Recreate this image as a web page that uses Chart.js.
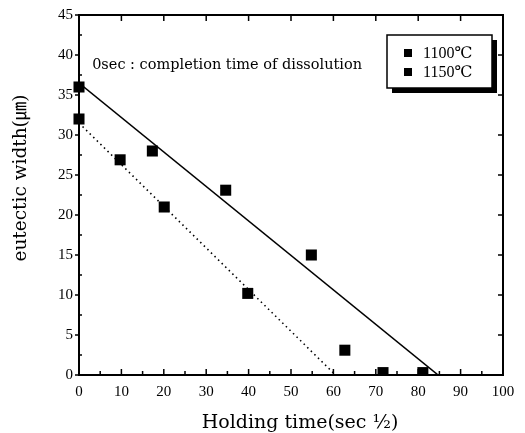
<!DOCTYPE html>
<html>
<head>
<meta charset="utf-8">
<script src="https://cdn.jsdelivr.net/npm/chart.js@4/dist/chart.umd.min.js"></script>
<style>
    html, body { margin: 0; padding: 0; background: #ffffff; }
    #wrap { width: 525px; height: 433px; }
</style>
</head>
<body>
<div id="wrap"><canvas id="eutecticChart" width="525" height="433"></canvas></div>
<script>

// ======================================================
// Data
// ======================================================

const seriesLabels = ["1100\u2103", "1150\u2103"];

const time1100 = [0, 17.3, 34.6, 54.8, 62.7, 71.7, 81.1];
const width1100 = [36, 28, 23.1, 15, 3.1, 0.3, 0.3];

const time1150 = [0, 9.7, 20.1, 39.8];
const width1150 = [32, 26.9, 21, 10.2];

// fitted lines, end points
const fitTime1100 = [0, 84.7];
const fitWidth1100 = [36.5, 0];
const fitTime1150 = [0, 60.5];
const fitWidth1150 = [31.5, 0];

const xTickValues = [0, 10, 20, 30, 40, 50, 60, 70, 80, 90, 100];
const yTickValues = [0, 5, 10, 15, 20, 25, 30, 35, 40, 45];

const xTitle = "Holding time(sec \u00BD)";
const yTitle = "eutectic width(\u339B)";
const noteText = "0sec : completion time of dissolution";


// ======================================================
// Helpers
// ======================================================

function toPoints(xs, ys) {
    return xs.map((x, i) => ({ x: x, y: ys[i] }));
}

const serif = "'Liberation Serif', 'DejaVu Serif', serif";
const wideSerif = "'DejaVu Serif', 'Noto Sans CJK JP', serif";


// ======================================================
// Frame + inward ticks
// ======================================================

const framePlugin = {
    id: "frame",
    afterDatasetsDraw(chart) {
        const { ctx, chartArea: a, scales } = chart;
        const xs = scales.x, ys = scales.y;
        ctx.save();
        ctx.strokeStyle = "#000";
        ctx.lineWidth = 2;
        ctx.strokeRect(a.left, a.top, a.right - a.left, a.bottom - a.top);

        ctx.lineWidth = 1.5;
        ctx.beginPath();
        // bottom and top ticks
        for (let v = 0; v <= 100; v += 5) {
            const px = xs.getPixelForValue(v);
            const major = v % 10 === 0;
            ctx.moveTo(px, a.bottom);
            ctx.lineTo(px, a.bottom - (major ? 6 : 4));
            if (major) {
                ctx.moveTo(px, a.top);
                ctx.lineTo(px, a.top + 6);
            }
        }
        // left and right ticks
        for (let v = 0; v <= 45; v += 2.5) {
            const py = ys.getPixelForValue(v);
            const major = v % 5 === 0;
            if (major) {
                ctx.moveTo(a.left - 4, py);
                ctx.lineTo(a.left, py);
                ctx.moveTo(a.right, py);
                ctx.lineTo(a.right - 5, py);
            } else {
                ctx.moveTo(a.left, py);
                ctx.lineTo(a.left + 3, py);
            }
        }
        ctx.stroke();
        ctx.restore();
    }
};


// ======================================================
// Axis titles, note text, boxed legend with shadow
// ======================================================

const textPlugin = {
    id: "texts",
    afterDraw(chart) {
        const { ctx, chartArea: a, scales } = chart;
        ctx.save();
        ctx.fillStyle = "#000";
        ctx.textBaseline = "middle";

        // axis titles
        ctx.textAlign = "center";
        ctx.font = "19px " + wideSerif;
        ctx.fillText(xTitle, a.left + 221, 423);

        ctx.save();
        ctx.translate(21, 178);
        ctx.rotate(-Math.PI / 2);
        ctx.font = "18.5px " + wideSerif;
        ctx.fillText(yTitle, 0, 0);
        ctx.restore();

        // note
        ctx.textAlign = "left";
        ctx.font = "14.5px 'DejaVu Serif', serif";
        ctx.fillText(noteText, scales.x.getPixelForValue(3.1), scales.y.getPixelForValue(38.7));

        // legend box
        const bx = a.right - 116, by = a.top + 20, bw = 105, bh = 53;
        ctx.fillStyle = "#000";
        ctx.fillRect(bx + 5, by + 5, bw, bh);
        ctx.fillStyle = "#fff";
        ctx.fillRect(bx, by, bw, bh);
        ctx.strokeStyle = "#000";
        ctx.lineWidth = 1.5;
        ctx.strokeRect(bx, by, bw, bh);

        ctx.font = "16px " + serif;
        seriesLabels.forEach((label, i) => {
            const cy = by + 18 + i * 19;
            ctx.fillStyle = "#000";
            ctx.fillRect(bx + 17, cy - 4, 8, 8);
            ctx.fillText(label, bx + 36, cy + 1);
        });
        ctx.restore();
    }
};


// ======================================================
// Chart
// ======================================================

const ctx = document.getElementById("eutecticChart").getContext("2d");

new Chart(ctx, {

    type: "scatter",

    data: {

        datasets: [

            {
                label: seriesLabels[0],
                data: toPoints(time1100, width1100),
                pointStyle: "rect",
                pointRadius: 7.8,
                pointHoverRadius: 7.8,
                backgroundColor: "#000",
                borderColor: "#000",
                borderWidth: 0,
                clip: { left: 10, top: 10, right: 10, bottom: 0 }
            },

            {
                label: seriesLabels[1],
                data: toPoints(time1150, width1150),
                pointStyle: "rect",
                pointRadius: 7.8,
                pointHoverRadius: 7.8,
                backgroundColor: "#000",
                borderColor: "#000",
                borderWidth: 0,
                clip: { left: 10, top: 10, right: 10, bottom: 0 }
            },

            {
                label: "fit 1100",
                data: toPoints(fitTime1100, fitWidth1100),
                showLine: true,
                pointRadius: 0,
                borderColor: "#000",
                borderWidth: 1.6
            },

            {
                label: "fit 1150",
                data: toPoints(fitTime1150, fitWidth1150),
                showLine: true,
                pointRadius: 0,
                borderColor: "#000",
                borderWidth: 1.6,
                borderDash: [1.5, 3.5]
            }

        ]

    },

    options: {

        responsive: false,

        animation: false,

        layout: {
            padding: { top: 14, right: 22, left: 0, bottom: 0 }
        },

        plugins: {
            legend: { display: false },
            tooltip: { enabled: false }
        },

        scales: {

            x: {
                type: "linear",
                min: 0,
                max: 100,
                afterBuildTicks: (scale) => {
                    scale.ticks = xTickValues.map(v => ({ value: v }));
                },
                afterFit: (scale) => { scale.height = 58; },
                grid: { display: false, drawTicks: false },
                border: { display: false },
                ticks: {
                    color: "#000",
                    padding: 8,
                    maxRotation: 0,
                    font: { family: serif, size: 15 }
                }
            },

            y: {
                type: "linear",
                min: 0,
                max: 45,
                afterBuildTicks: (scale) => {
                    scale.ticks = yTickValues.map(v => ({ value: v }));
                },
                afterFit: (scale) => { scale.width = 79; },
                grid: { display: false, drawTicks: false },
                border: { display: false },
                ticks: {
                    color: "#000",
                    padding: 6,
                    font: { family: serif, size: 15 }
                }
            }

        }

    },

    plugins: [framePlugin, textPlugin]

});

</script>
</body>
</html>
